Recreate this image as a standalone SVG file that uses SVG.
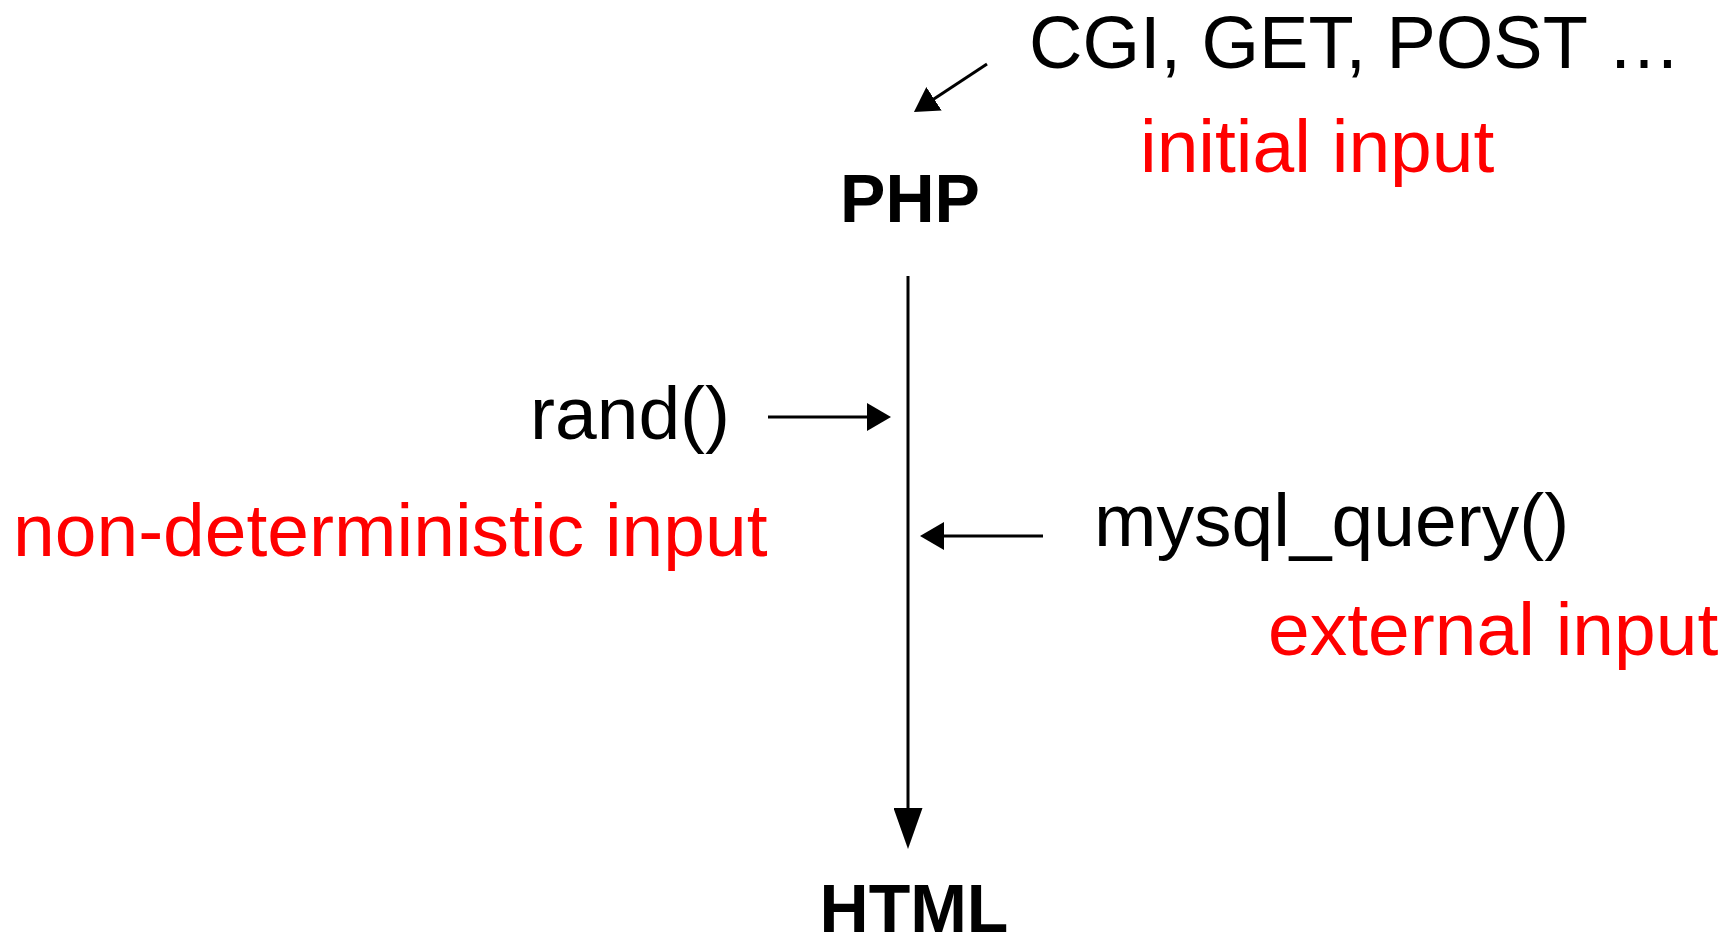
<svg xmlns="http://www.w3.org/2000/svg" width="1731" height="936" viewBox="0 0 1731 936">
  <style>
    text { font-family: "Liberation Sans", Arial, sans-serif; }
    .lbl { font-size: 75px; fill: #000; }
    .note { font-size: 75px; fill: #ff0000; }
    .node { font-size: 68px; font-weight: bold; fill: #000; text-anchor: middle; }
    .edge { stroke: #000; stroke-width: 3; fill: none; }
  </style>
  <defs>
    <marker id="head" markerUnits="userSpaceOnUse" viewBox="0 0 24 28" markerWidth="24" markerHeight="28" refX="12" refY="14" orient="auto">
      <path d="M0,0 L24,14 L0,28 z" fill="#000"/>
    </marker>
    <marker id="bighead" markerUnits="userSpaceOnUse" viewBox="0 0 41 29" markerWidth="41" markerHeight="29" refX="20" refY="14.5" orient="auto">
      <path d="M0,0 L41,14.5 L0,29 z" fill="#000"/>
    </marker>
  </defs>
  <rect width="1731" height="936" fill="#fff"/>

  <g id="connectors">
    <line class="edge" x1="987" y1="64" x2="924" y2="105.4" marker-end="url(#head)"/>
    <line class="edge" x1="908" y1="276" x2="908" y2="828" marker-end="url(#bighead)"/>
    <line class="edge" x1="768" y1="417" x2="879" y2="417" marker-end="url(#head)"/>
    <line class="edge" x1="1043" y1="536" x2="932" y2="536" marker-end="url(#head)"/>
  </g>

  <g id="php">
    <text class="node" x="910" y="222">PHP</text>
  </g>
  <g id="html">
    <text class="node" x="914" y="932">HTML</text>
  </g>
  <g id="request-input">
    <text class="lbl" x="1029" y="68" textLength="652" lengthAdjust="spacingAndGlyphs">CGI, GET, POST …</text>
    <text class="note" x="1140" y="172">initial input</text>
  </g>
  <g id="rand">
    <text class="lbl" x="530" y="439">rand()</text>
    <text class="note" x="13" y="556">non-deterministic input</text>
  </g>
  <g id="mysql">
    <text class="lbl" x="1094" y="546">mysql_query()</text>
    <text class="note" x="1268" y="655">external input</text>
  </g>
</svg>
